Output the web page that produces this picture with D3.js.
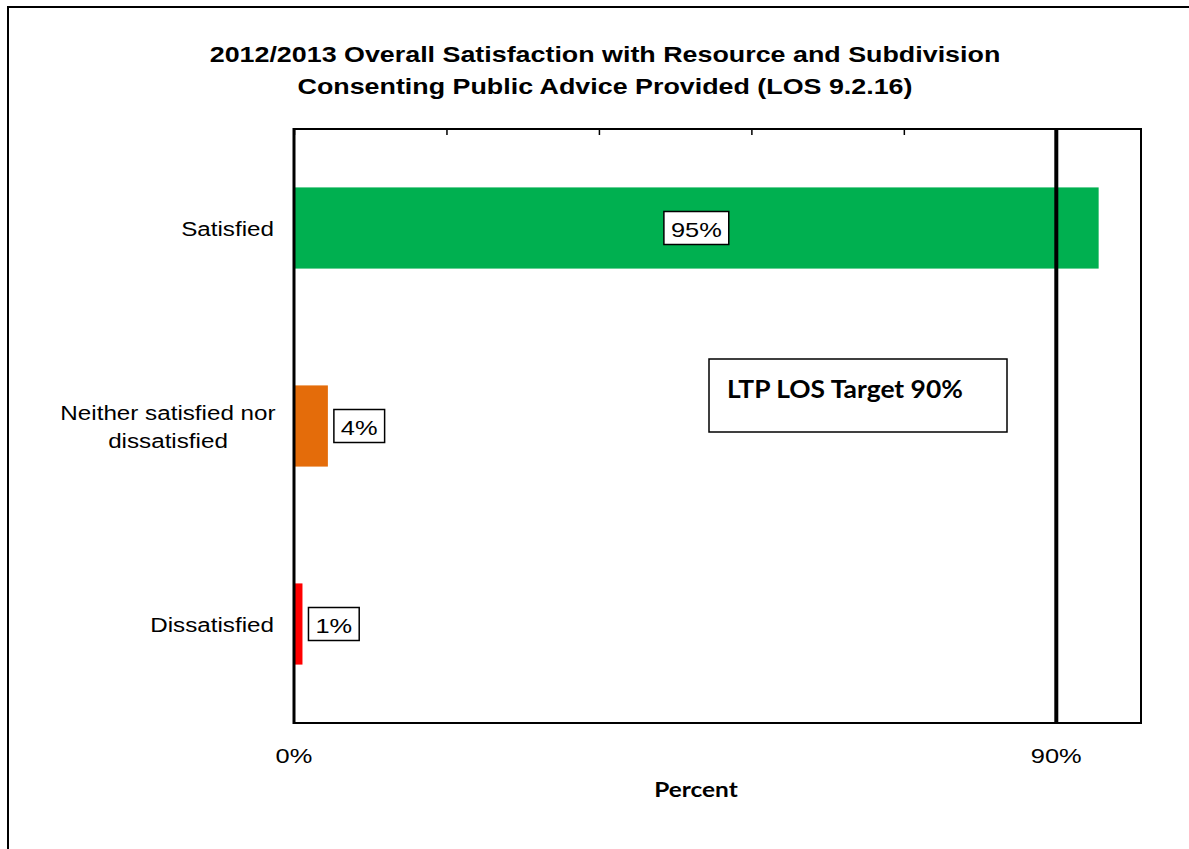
<!DOCTYPE html>
<html>
<head>
<meta charset="utf-8">
<script src="https://cdn.jsdelivr.net/npm/d3@7"></script>
<style>
  html, body { margin: 0; padding: 0; background: #fff; }
  svg { display: block; }
</style>
</head>
<body>
<svg id="chart" width="1189" height="849"></svg>
<script>
// Survey responses (percent of respondents)
const categories = ["Satisfied", "Neither satisfied nor dissatisfied", "Dissatisfied"];
const categoryLines = [["Satisfied"], ["Neither satisfied nor", "dissatisfied"], ["Dissatisfied"]];
const values = [95, 4, 1];
const barColors = ["#00b050", "#e46c0a", "#ff0000"];
const targetValue = 90;
const targetLabel = "LTP LOS Target 90%";
const tickValues = [0, 18, 36, 54, 72, 90];
const labelledTicks = [0, 90];
const titleLines = [
  "2012/2013 Overall Satisfaction with Resource and Subdivision",
  "Consenting Public Advice Provided (LOS 9.2.16)"
];
const axisTitle = "Percent";

const svg = d3.select("#chart");
const plot = { left: 294, right: 1141, top: 129, bottom: 723 };
const sans = "Liberation Sans, Arial, sans-serif";
const calibriLike = "Lato, Open Sans, sans-serif";
const WIDE = 1.21; // horizontal stretch applied to text runs

// Widen a text element horizontally while keeping its glyph height
function widen(sel, factor) {
  sel.each(function () {
    const w = this.getComputedTextLength();
    d3.select(this).attr("textLength", w * factor).attr("lengthAdjust", "spacingAndGlyphs");
  });
  return sel;
}

// Outer frame (extends past the right and bottom edges)
svg.append("rect")
  .attr("x", 8).attr("y", 7)
  .attr("width", 1200).attr("height", 900)
  .attr("fill", "#fff").attr("stroke", "#000").attr("stroke-width", 2);

const x = d3.scaleLinear().domain([0, 100]).range([plot.left, plot.right]);
const y = d3.scaleBand().domain(categories).range([plot.top, plot.bottom])
  .paddingInner(0.59).paddingOuter(0.295);

// Title
titleLines.forEach((t, i) => {
  const el = svg.append("text")
    .attr("x", 605).attr("y", 62 + i * 32)
    .attr("text-anchor", "middle")
    .attr("font-family", sans)
    .attr("font-weight", "bold").attr("font-size", 22)
    .text(t);
  widen(el, 1.22);
});

// Plot frame
svg.append("rect")
  .attr("x", plot.left).attr("y", plot.top)
  .attr("width", plot.right - plot.left).attr("height", plot.bottom - plot.top)
  .attr("fill", "#fff").attr("stroke", "#000").attr("stroke-width", 2);

// Tick marks along the top edge
const topAxis = d3.axisTop(x).tickValues(tickValues).tickSize(-6).tickFormat("");
svg.append("g").attr("transform", `translate(0,${plot.top})`).call(topAxis)
  .call(g => g.select(".domain").remove())
  .call(g => g.selectAll("line").attr("stroke", "#000").attr("stroke-width", 1.5));

// Bars
svg.append("g").selectAll("rect")
  .data(categories)
  .join("rect")
  .attr("x", x(0) + 1)
  .attr("y", d => y(d))
  .attr("width", (d, i) => x(values[i]) - x(0) - 1)
  .attr("height", y.bandwidth())
  .attr("fill", (d, i) => barColors[i]);

// Target line
svg.append("line")
  .attr("x1", x(targetValue)).attr("x2", x(targetValue))
  .attr("y1", plot.top).attr("y2", plot.bottom)
  .attr("stroke", "#000").attr("stroke-width", 4);

// Left axis line (heavier)
svg.append("line")
  .attr("x1", plot.left).attr("x2", plot.left)
  .attr("y1", plot.top - 1).attr("y2", plot.bottom + 1)
  .attr("stroke", "#000").attr("stroke-width", 3);

// Value labels
categories.forEach((c, i) => {
  const v = values[i];
  const inside = v > 50;
  const cy = y(c) + y.bandwidth() / 2;
  const g = svg.append("g");
  const t = g.append("text")
    .attr("font-family", sans).attr("font-size", 21)
    .attr("dominant-baseline", "central")
    .attr("text-anchor", "middle")
    .text(v + "%");
  const w = t.node().getComputedTextLength() * WIDE;
  widen(t, WIDE);
  const boxW = w + 14, boxH = 33;
  const cx = inside ? (x(0) + x(v)) / 2 : x(v) + 6 + boxW / 2;
  g.insert("rect", "text")
    .attr("x", cx - boxW / 2).attr("y", cy - boxH / 2)
    .attr("width", boxW).attr("height", boxH)
    .attr("fill", "#fff").attr("stroke", "#000").attr("stroke-width", 1.5);
  t.attr("x", cx).attr("y", cy + 1);
});

// Category labels: single lines right-aligned, wrapped lines centred on each other
categories.forEach((c, i) => {
  const lines = categoryLines[i];
  const cy = y(c) + y.bandwidth() / 2;
  const multi = lines.length > 1;
  lines.forEach((l, j) => {
    const el = svg.append("text")
      .attr("x", multi ? 168 : 274)
      .attr("y", cy + 8 + (j - (lines.length - 1) / 2) * 28)
      .attr("text-anchor", multi ? "middle" : "end")
      .attr("font-family", sans).attr("font-size", 20)
      .text(l);
    widen(el, WIDE);
  });
});

// Bottom tick labels
widen(svg.append("g").selectAll("text")
  .data(labelledTicks)
  .join("text")
  .attr("x", d => x(d)).attr("y", 763)
  .attr("text-anchor", "middle")
  .attr("font-family", sans).attr("font-size", 21)
  .text(d => d + "%"), WIDE);

// Axis title
widen(svg.append("text")
  .attr("x", 696).attr("y", 797)
  .attr("text-anchor", "middle")
  .attr("font-family", calibriLike)
  .attr("font-weight", "bold").attr("font-size", 20)
  .text(axisTitle), 1.22);

// Target annotation box
svg.append("rect")
  .attr("x", 709).attr("y", 359).attr("width", 298).attr("height", 73)
  .attr("fill", "#fff").attr("stroke", "#000").attr("stroke-width", 1.5);
widen(svg.append("text")
  .attr("x", 727).attr("y", 398)
  .attr("font-family", calibriLike)
  .attr("font-weight", "bold").attr("font-size", 24)
  .text(targetLabel), 1.1);
</script>
</body>
</html>
